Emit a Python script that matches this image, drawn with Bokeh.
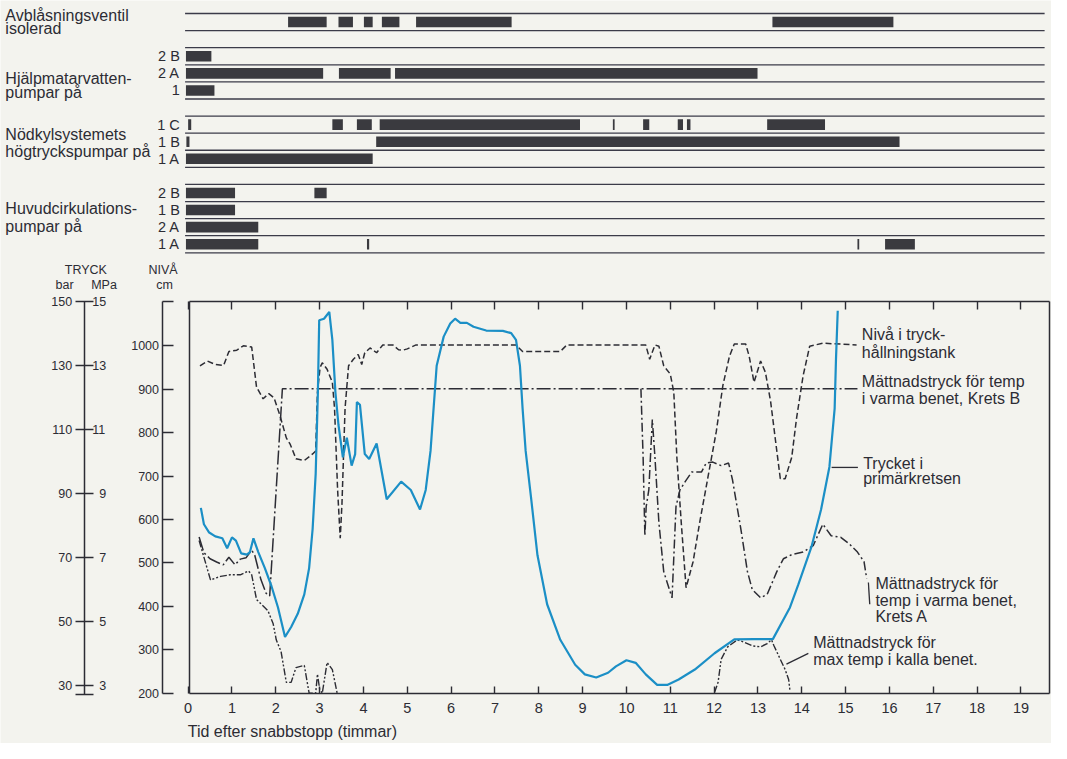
from bokeh.plotting import figure
from bokeh.models import Range1d, LinearAxis, FixedTicker
from bokeh.core.properties import value
from bokeh.embed import file_html
from bokeh.resources import INLINE

NAN = float("nan")

# ---------------- data ----------------
hour_ticks = list(range(0, 20))
niva_ticks = [200, 300, 400, 500, 600, 700, 800, 900, 1000]
bar_ticks = [30, 50, 70, 90, 110, 130, 150]
mpa_labels = ["3", "5", "7", "9", "11", "13", "15"]

# Gantt rows: (start hour, end hour)
ventil_isolerad = [(2.28, 3.16), (3.43, 3.76), (4.01, 4.21), (4.42, 4.82), (5.20, 7.38), (13.33, 16.09)]
hjalp_2b = [(-0.05, 0.53)]
hjalp_2a = [(-0.05, 3.08), (3.44, 4.62), (4.72, 12.99)]
hjalp_1 = [(-0.05, 0.60)]
nod_1c = [(0.00, 0.07), (3.29, 3.53), (3.85, 4.19), (4.37, 8.94), (9.69, 9.73),
          (10.38, 10.52), (11.17, 11.29), (11.38, 11.46), (13.21, 14.53)]
nod_1b = [(-0.04, 0.03), (4.29, 16.23)]
nod_1a = [(-0.05, 4.21)]
huv_2b = [(-0.05, 1.07), (2.88, 3.16)]
huv_1b = [(-0.05, 1.07)]
huv_2a = [(-0.05, 1.60)]
huv_1a = [(-0.05, 1.60), (4.08, 4.13), (15.27, 15.31), (15.90, 16.58)]

# Trycket i primarkretsen (bar)
t_tryck = [0.29, 0.36, 0.48, 0.62, 0.78, 0.89, 1.00, 1.09, 1.21, 1.34, 1.41, 1.49, 1.60, 1.75,
           1.90, 2.05, 2.21, 2.35, 2.50, 2.65, 2.76, 2.84, 2.91, 2.96, 2.99, 3.10, 3.22, 3.29,
           3.36, 3.43, 3.53, 3.62, 3.73, 3.81, 3.85, 3.92, 4.03, 4.13, 4.30, 4.53, 4.86, 5.08,
           5.29, 5.42, 5.53, 5.67, 5.83, 5.98, 6.09, 6.21, 6.36, 6.51, 6.80, 7.18, 7.37, 7.48,
           7.57, 7.63, 7.70, 7.82, 7.97, 8.19, 8.49, 8.83, 9.05, 9.31, 9.58, 9.76, 10.00, 10.21,
           10.44, 10.70, 10.93, 11.19, 11.56, 12.01, 12.46, 12.91, 13.34, 13.73, 13.92, 14.22,
           14.44, 14.63, 14.75, 14.78, 14.82]
p_tryck = [85.6, 80.5, 77.9, 76.7, 76.1, 73.0, 76.4, 75.4, 71.4, 71.0, 71.8, 76.1, 71.8, 66.8,
           61.2, 54.5, 45.3, 48.4, 52.5, 58.6, 66.8, 79.0, 96.3, 121.7, 144.2, 144.7, 146.8, 138.1,
           121.7, 111.5, 101.4, 107.5, 98.8, 102.4, 118.7, 117.8, 102.4, 100.9, 105.7, 88.3, 93.8, 91.2,
           85.1, 91.2, 103.4, 130.0, 139.1, 143.2, 144.7, 143.4, 143.4, 142.2, 141.0, 140.9, 140.2, 138.1,
           130.0, 116.7, 103.4, 89.2, 70.8, 55.5, 44.4, 36.6, 33.6, 32.6, 34.1, 36.1, 38.0, 37.2,
           33.6, 30.3, 30.3, 32.0, 35.1, 40.2, 44.5, 44.6, 44.6, 54.5, 61.6, 73.4,
           85.1, 98.4, 116.7, 132.0, 147.2]

# Niva i tryckhallningstank (cm)
t_niva = [0.27, 0.44, 0.62, 0.81, 0.93, 1.11, 1.26, 1.45, 1.56, 1.71, 1.84, 1.96, 2.09, 2.24,
          2.33, 2.46, 2.65, 2.84, 2.91, 2.95, 3.01, 3.06, 3.17, 3.29, 3.34, 3.41, 3.47, 3.51,
          3.58, 3.66, 3.77, 3.88, 3.96, 4.03, 4.15, 4.30, 4.44, 4.67, 4.80, 4.90, 5.00, 5.20,
          7.48, 7.63, 8.49, 8.64, 10.44, 10.53, 10.65, 10.74, 10.85, 11.00, 11.08, 11.15, 11.25,
          11.36, 11.52, 11.67, 11.86, 12.05, 12.20, 12.35, 12.46, 12.72, 12.80, 12.91, 13.06,
          13.17, 13.29, 13.43, 13.51, 13.62, 13.77, 13.88, 14.03, 14.18, 14.48, 15.25]
h_niva = [954, 965, 957, 955, 987, 990, 1000, 997, 905, 878, 890, 880, 841, 788,
          773, 740, 736, 751, 758, 893, 950, 961, 946, 916, 856, 668, 557, 638,
          856, 954, 969, 980, 957, 984, 995, 984, 1002, 1002, 991, 990, 993, 1002,
          1002, 987, 987, 1002, 1002, 969, 1002, 999, 954, 935, 893, 743, 593,
          443, 503, 593, 698, 803, 909, 976, 1004, 1004, 976, 916, 965,
          939, 871, 758, 694, 694, 743, 833, 931, 999, 1006, 1002]

# Mattnadstryck, varma benet, Krets B (bar)
t_kretsB = [0.25, 0.36, 0.50, 0.65, 0.80, 0.93, 1.07, 1.19, 1.32, 1.45, 1.52, 1.66, 1.78, 1.86, 2.15, 15.27]
p_kretsB = [76.5, 71.6, 69.7, 68.7, 67.8, 70.2, 67.8, 69.6, 70.0, 72.4, 70.8, 63.2, 58.9, 58.1, 122.8, 122.8]

# Mattnadstryck, varma benet, Krets A (bar)
t_kretsA = [10.33, 10.38, 10.42, 10.45, 10.51, 10.59, 10.65, 10.74, 10.85, 11.04, 11.13, 11.22,
            11.34, 11.49, 11.71, 11.82, 11.97, 12.16, 12.33, 12.42, 12.61, 12.76, 12.87, 13.06,
            13.21, 13.32, 13.43, 13.58, 13.77, 14.03, 14.26, 14.48, 14.67, 14.89, 15.08, 15.27,
            15.42, 15.48]
p_kretsA = [122.8, 101.4, 76.9, 86.0, 91.2, 113.2, 101.4, 81.0, 65.7, 57.5, 86.0, 91.2,
            93.8, 96.8, 96.8, 99.6, 99.9, 98.8, 99.6, 94.3, 79.0, 65.7, 60.1, 57.5,
            58.6, 62.1, 65.7, 69.7, 71.0, 71.8, 73.8, 80.5, 76.9, 76.4, 74.4, 71.8,
            68.8, 63.6]

# Mattnadstryck, max temp i kalla benet (bar)
t_kall = [0.25, 0.51, 0.74, 0.96, 1.19, 1.38, 1.45, 1.56, 1.67, 1.82, 1.94, 2.01, 2.12, 2.24,
          2.35, 2.46, 2.65, 2.76, 2.91, 2.95, 3.00, 3.06, 3.17, 3.29, 3.40, NAN,
          12.01, 12.09, 12.16, 12.31, 12.53, 12.69, 12.87, 13.06, 13.21, 13.31, 13.36, 13.51,
          13.62, 13.70, 13.73]
p_kall = [75.4, 63.1, 64.2, 64.7, 64.7, 65.9, 64.7, 57.0, 55.5, 53.5, 49.4, 44.4, 40.7, 31.1,
          31.1, 35.7, 36.4, 27.7, 27.7, 33.7, 29.0, 27.7, 37.3, 35.1, 27.7, NAN,
          28.0, 31.1, 38.3, 42.2, 44.4, 43.6, 42.5, 42.2, 43.2, 44.4, 42.7, 38.3,
          35.1, 32.0, 28.5]

# ---------------- layout / style ----------------
W, H = 1051, 743
BG = "#f3f3ee"
INK = "#2c2c34"
BAR = "#3a3a3f"
BLUE = "#1b8fc6"
FONT = "Liberation Sans"

X0, X1 = 0.03, 19.65      # plot box, hours
Y_BOT, Y_TOP = 200, 1103  # plot box, cm
BAR_BOT = 27.4

p = figure(width=W, height=H, output_backend="svg", toolbar_location=None,
           x_range=Range1d(-4.281, 19.697), y_range=Range1d(84.4, 1795.0),
           x_axis_type=None, y_axis_type=None, min_border=0)
p.extra_y_ranges = {"bar": Range1d(12.0, 244.1), "rows": Range1d(42.71, -0.762)}
p.outline_line_color = None
p.background_fill_color = BG
p.border_fill_color = BG


def style_axis(ax, size="12.5px"):
    ax.axis_line_color = INK
    ax.axis_line_width = 1.5
    ax.major_tick_line_color = INK
    ax.major_tick_line_width = 1.4
    ax.minor_tick_line_color = None
    ax.major_label_text_font = FONT
    ax.major_label_text_font_size = size
    ax.major_label_text_color = INK
    return ax


# bottom time axis
xb = style_axis(LinearAxis(fixed_location=Y_BOT, bounds=(X0, X1), ticker=FixedTicker(ticks=hour_ticks),
                           major_tick_in=7, major_tick_out=0, major_label_standoff=10), "14.5px")
p.add_layout(xb, "below")
# top border with ticks
xt = style_axis(LinearAxis(fixed_location=Y_TOP, bounds=(X0, X1), ticker=FixedTicker(ticks=hour_ticks),
                           major_tick_in=8, major_tick_out=0,
                           major_label_overrides={t: "" for t in hour_ticks}))
p.add_layout(xt, "above")
# left / right borders
for loc, xpos in (("left", X0), ("right", X1)):
    ax = style_axis(LinearAxis(fixed_location=xpos, bounds=(Y_BOT, Y_TOP), ticker=FixedTicker(ticks=[]),
                               major_tick_in=0, major_tick_out=0))
    p.add_layout(ax, loc)

# NIVA axis (cm)
ya = style_axis(LinearAxis(fixed_location=-0.596, bounds=(Y_BOT, Y_TOP),
                           ticker=FixedTicker(ticks=niva_ticks + [Y_TOP]),
                           major_label_overrides={Y_TOP: ""},
                           major_tick_in=11, major_tick_out=0, major_label_standoff=3))
p.add_layout(ya, "left")

# TRYCK axis (bar, MPa)
yb = style_axis(LinearAxis(fixed_location=-2.371, y_range_name="bar", bounds=(BAR_BOT, 150),
                           ticker=FixedTicker(ticks=bar_ticks + [BAR_BOT]),
                           major_label_overrides={BAR_BOT: ""},
                           major_tick_in=9, major_tick_out=9, major_label_standoff=3))
p.add_layout(yb, "left")
mpa_over = {b: (m if len(m) == 2 else "\u2007" + m) for b, m in zip(bar_ticks, mpa_labels)}
ym = style_axis(LinearAxis(fixed_location=-2.371, y_range_name="bar",
                           ticker=FixedTicker(ticks=bar_ticks), major_label_overrides=mpa_over,
                           major_tick_in=0, major_tick_out=0, major_label_standoff=8))
ym.axis_line_color = None
p.add_layout(ym, "right")

# ---------------- Gantt ----------------
gantt = [
    (0.5, "", ventil_isolerad),
    (2.5, "2 B", hjalp_2b), (3.5, "2 A", hjalp_2a), (4.5, "1", hjalp_1),
    (6.5, "1 C", nod_1c), (7.5, "1 B", nod_1b), (8.5, "1 A", nod_1a),
    (10.5, "2 B", huv_2b), (11.5, "1 B", huv_1b), (12.5, "2 A", huv_2a), (13.5, "1 A", huv_1a),
]
row_lines = sorted({c - 0.5 for c, _, _ in gantt} | {c + 0.5 for c, _, _ in gantt})
p.segment(x0=[-0.07] * len(row_lines), x1=[19.54] * len(row_lines), y0=row_lines, y1=row_lines,
          y_range_name="rows", line_color="#3b3b48", line_width=1.3)
for centre, lab, spans in gantt:
    p.hbar(y=[centre] * len(spans), left=[s for s, _ in spans], right=[e for _, e in spans],
           height=0.62, y_range_name="rows", fill_color=BAR, line_color=None)
sub = [(c, lab) for c, lab, _ in gantt if lab]
p.text(x=[-0.19] * len(sub), y=[c for c, _ in sub], text=[lab for _, lab in sub], y_range_name="rows",
       text_font=value(FONT), text_font_size=value("14.5px"), text_color=INK,
       text_align="right", text_baseline="middle")

group_text = ["Avblåsningsventil", "isolerad", "Hjälpmatarvatten-", "pumpar på",
              "Nödkylsystemets", "högtryckspumpar på", "Huvudcirkulations-", "pumpar på"]
group_y = [0.1, 0.9, 3.78, 4.63, 7.05, 8.1, 11.4, 12.45]
p.text(x=[-4.17] * len(group_text), y=group_y, text=group_text, y_range_name="rows",
       text_font=value(FONT), text_font_size=value("16px"), text_color=INK,
       text_align="left", text_baseline="middle")

# ---------------- curves ----------------
p.line(t_niva, h_niva, line_color=INK, line_width=1.5, line_dash="6 3")
p.line(t_kretsB, p_kretsB, y_range_name="bar", line_color=INK, line_width=1.5, line_dash="14 3 2 3")
p.line(t_kretsA, p_kretsA, y_range_name="bar", line_color=INK, line_width=1.5, line_dash="9 3 2 3")
p.line(t_kall, p_kall, y_range_name="bar", line_color=INK, line_width=1.4, line_dash="7 2 2 2 2 2")
p.line(t_tryck, p_tryck, y_range_name="bar", line_color=BLUE, line_width=2.2)

# leaders
p.segment(x0=[14.68, 15.52, 13.65], y0=[720, 455, 267], x1=[15.28, 15.55, 14.15], y1=[720, 405, 292],
          line_color=INK, line_width=1.3)

# ---------------- texts ----------------
def lines(x, ys, texts, size="16px", align="left"):
    p.text(x=[x] * len(texts), y=ys, text=texts, text_font=value(FONT), text_font_size=value(size),
           text_color=INK, text_align=align, text_baseline="middle")


lines(15.37, [1024.9, 983.6], ["Nivå i tryck-", "hållningstank"])
lines(15.37, [917.6, 878.4], ["Mättnadstryck för temp", "i varma benet, Krets B"])
lines(15.40, [729.6, 694.5], ["Trycket i", "primärkretsen"])
lines(15.68, [451.7, 414.1, 376.7], ["Mättnadstryck för", "temp i varma benet,", "Krets A"])
lines(14.26, [316.5, 278.9], ["Mättnadstryck för", "max temp i kalla benet."])
lines(-0.01, [112.0], ["Tid efter snabbstopp (timmar)"])

p.text(x=[-2.333, -2.82, -1.92, -0.573, -0.535], y=[1175, 1140, 1140, 1175, 1140],
       text=["TRYCK", "bar", "MPa", "NIVÅ", "cm"], text_font=value(FONT), text_font_size=value("12.5px"),
       text_color=INK, text_align="center", text_baseline="middle")

open("out.html", "w").write(file_html(p, INLINE))
